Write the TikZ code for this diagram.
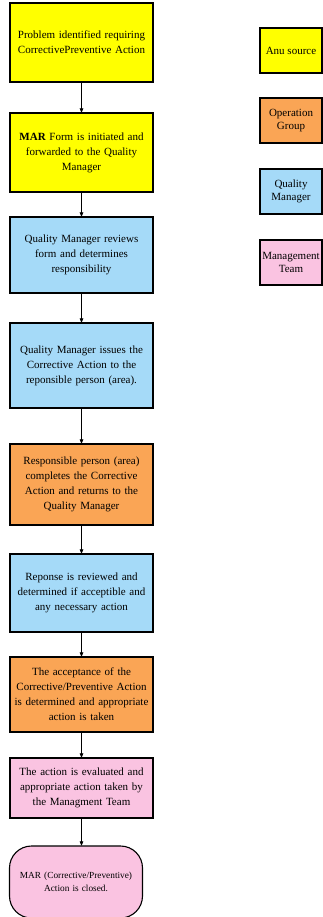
\documentclass[tikz,border=0pt]{standalone}
\usepackage{fontspec}
\setmainfont{Liberation Serif}
\usetikzlibrary{arrows}
\definecolor{box_yellow}{RGB}{255,255,0}
\definecolor{box_orange}{RGB}{250,165,85}
\definecolor{box_blue}{RGB}{165,218,248}
\definecolor{box_pink}{RGB}{250,195,225}
\begin{document}
\begin{tikzpicture}[->,semithick,>=stealth',x=1pt,y=-1pt]
    \tikzstyle{step_box}=[draw=black, line width=1.1pt, rectangle, minimum width=143pt, text width=141pt, align=center, inner sep=1pt, text=black, font=\fontsize{11}{15}\selectfont]
    \tikzstyle{ys}=[style=step_box,fill=box_yellow]
    \tikzstyle{og}=[style=step_box,fill=box_orange]
    \tikzstyle{qm}=[style=step_box,fill=box_blue]
    \tikzstyle{mt}=[style=step_box,fill=box_pink]
    \tikzstyle{key}=[draw=black, line width=1.1pt, rectangle, minimum width=62pt, minimum height=45pt, align=center, inner sep=0pt, text=black, font=\fontsize{11}{12.5}\selectfont]
    \useasboundingbox (0,0) rectangle (323,917);

    \node[ys,minimum height=79pt] (s1) at (81.5,42.5)  {Problem identified requiring\\CorrectivePreventive Action};
    \node[ys,minimum height=79pt] (s2) at (81.5,152.5) {\textbf{MAR} Form is initiated and\\forwarded to the Quality\\Manager};
    \node[qm,minimum height=76pt] (s3) at (81.5,255)   {Quality Manager reviews\\form and determines\\responsibility};
    \node[qm,minimum height=85pt] (s4) at (81.5,365.5) {Quality Manager issues the\\Corrective Action to the\\reponsible person (area).};
    \node[og,minimum height=81pt] (s5) at (81.5,484.5) {Responsible person (area)\\completes the Corrective\\Action and returns to the\\Quality Manager};
    \node[qm,minimum height=78pt] (s6) at (81.5,593)   {Reponse is reviewed and\\determined if acceptible and\\any necessary action};
    \node[og,minimum height=75pt] (s7) at (81.5,694.5) {The acceptance of the\\Corrective/Preventive Action\\is determined and appropriate\\action is taken};
    \node[mt,minimum height=60pt] (s8) at (81.5,788)   {The action is evaluated and\\appropriate action taken by\\the Managment Team};
    \node[mt,minimum width=133pt,text width=128pt,minimum height=72pt,rounded corners=22pt,font=\fontsize{9.3}{13}\selectfont] (end) at (76,882) {MAR (Corrective/Preventive)\\Action is closed.};

    \node[key,fill=box_yellow] (k1) at (291,50.5)  {Anu source};
    \node[key,fill=box_orange] (k2) at (291,120.5) {Operation\\Group};
    \node[key,fill=box_blue]   (k3) at (291,191.5) {Quality\\Manager};
    \node[key,fill=box_pink]   (k4) at (291,262.5) {Management\\Team};

    \path
     (s1) edge[] (s2)
     (s2) edge[] (s3)
     (s3) edge[] (s4)
     (s4) edge[] (s5)
     (s5) edge[] (s6)
     (s6) edge[] (s7)
     (s7) edge[] (s8)
     (s8.south) edge[] (s8.south |- end.north)
     ;
\end{tikzpicture}
\end{document}
